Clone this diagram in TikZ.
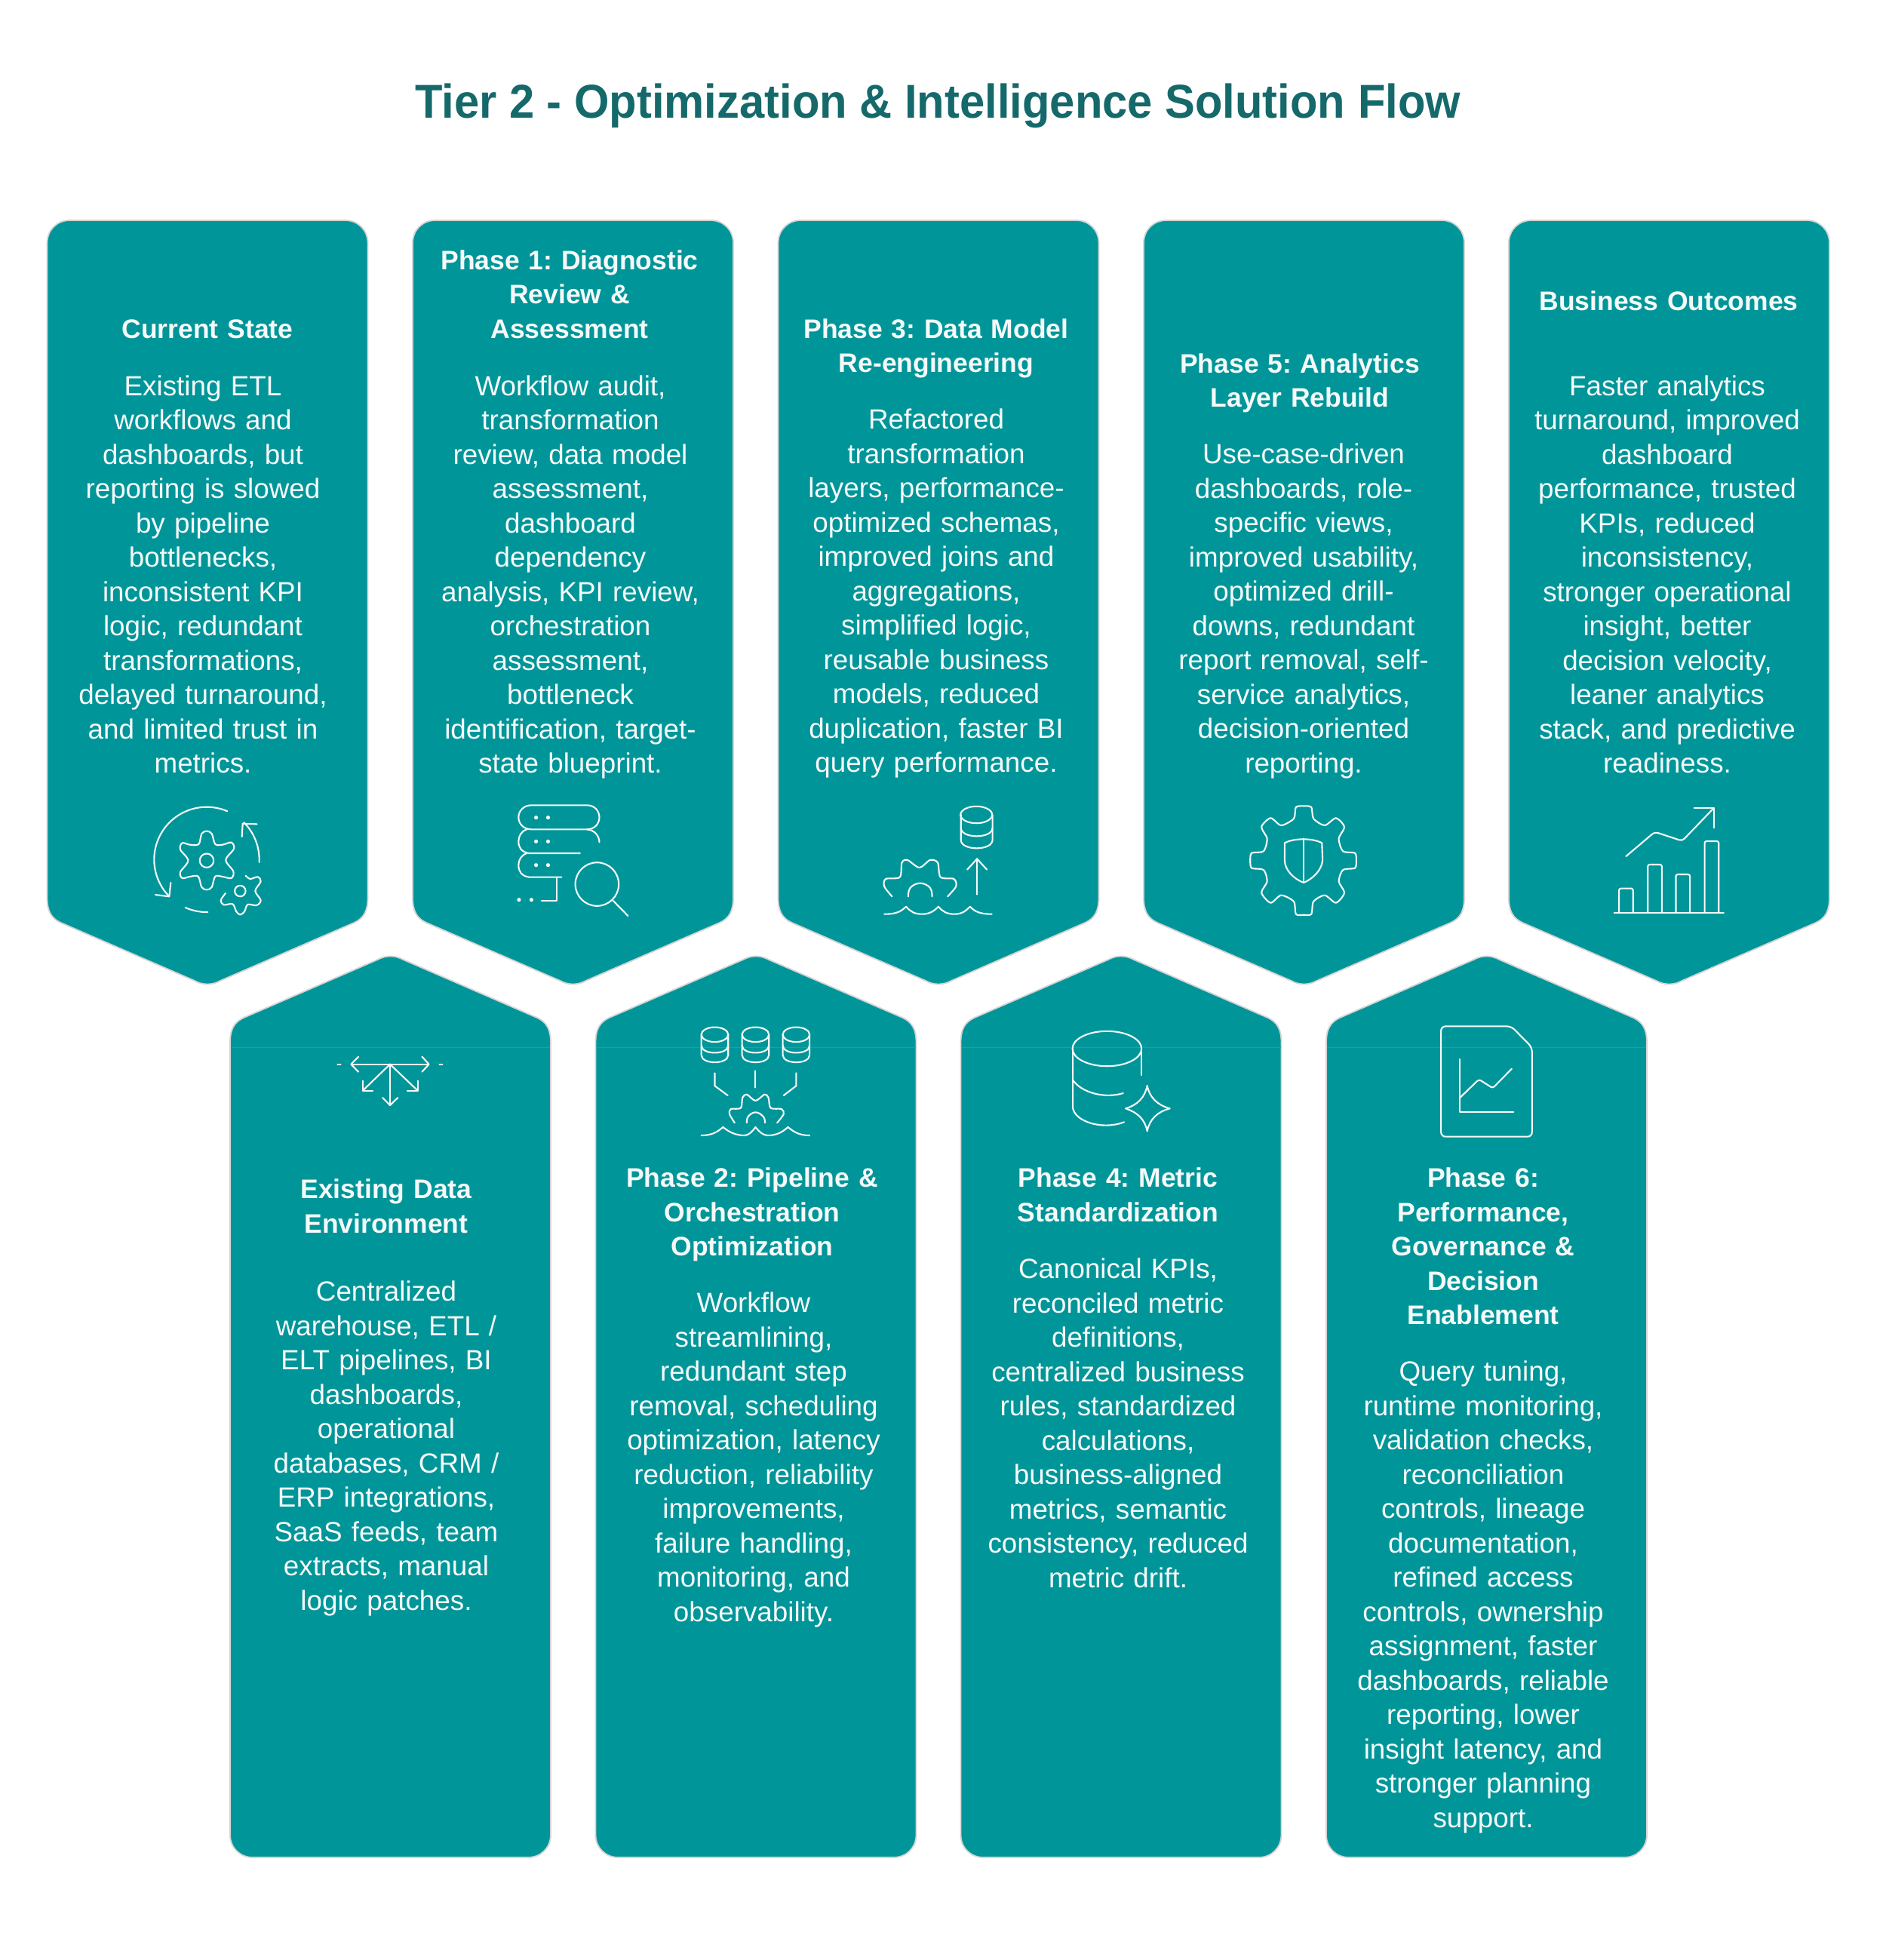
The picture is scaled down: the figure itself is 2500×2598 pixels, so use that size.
\documentclass[tikz,border=0pt]{standalone}
\usepackage{fontspec}
\setmainfont{Liberation Sans}
\newfontface\titleface{Liberation Sans Bold}[FakeStretch=0.948]
\frenchspacing
\definecolor{tealcard}{HTML}{009699}
\definecolor{titleteal}{HTML}{15696A}
\definecolor{cardedge}{HTML}{D4D4D4}
\definecolor{seam}{HTML}{2A9A9C}
\definecolor{softwhite}{HTML}{F6F9F9}
\tikzset{
  cardshape/.style={fill=tealcard,draw=cardedge,line width=0.9pt},
  ico/.style={draw=softwhite,line width=1.05pt,line cap=round,line join=round},
  dotmark/.style={fill=softwhite,draw=none},
  headtext/.style={inner sep=0pt,anchor=base,text width=212pt,align=center,text=softwhite,
    font=\fontsize{17.75}{22.75}\selectfont\bfseries},
  bodytext/.style={inner sep=0pt,anchor=base,text width=212pt,align=center,text=softwhite,
    font=\fontsize{18.4}{22.75}\selectfont},
  zoomA/.style={shift={(40,1040)},x=0.3062pt,y=-0.16667pt},
  zoomB/.style={shift={(1000,1040)},x=0.4655pt,y=-0.16667pt},
  zoomC/.style={shift={(300,1280)},x=0.287pt,y=-0.16667pt},
  zoomD/.style={shift={(1250,1280)},x=0.3062pt,y=-0.16667pt},
  zoomE/.style={shift={(180,1050)},x=0.16667pt,y=-0.16667pt},
}
\newcommand{\downcard}[1]{%
  \draw[cardshape,shift={(#1,0)}] (0,322) .. controls (0,305) and (13,292) .. (30,292) -- (395,292)
    .. controls (412,292) and (425,305) .. (425,322) -- (425,1190)
    .. controls (425,1207) and (420,1217) .. (407,1223) -- (229.5,1300)
    .. controls (219,1306) and (206,1306) .. (195.5,1300) -- (18,1223)
    .. controls (5,1217) and (0,1207) .. (0,1190) -- cycle;}
\newcommand{\upcard}[1]{%
  \draw[cardshape,shift={(#1,0)}] (0,2432) .. controls (0,2449) and (13,2462) .. (30,2462) -- (395,2462)
    .. controls (412,2462) and (425,2449) .. (425,2432) -- (425,1382)
    .. controls (425,1365) and (420,1355) .. (407,1349) -- (229.5,1272)
    .. controls (219,1266) and (206,1266) .. (195.5,1272) -- (18,1349)
    .. controls (5,1355) and (0,1365) .. (0,1382) -- cycle;
  \draw[seam,line width=0.5pt,shift={(#1,0)}] (1,1388) -- (424,1388);}
\begin{document}
\begin{tikzpicture}[x=0.5pt,y=-0.5pt]
\useasboundingbox (0,0) rectangle (2500,2598);
\node[inner sep=0pt,anchor=base,text=titleteal,font=\fontsize{31.5}{36}\titleface] (maintitle) at (1243,156)
  {Tier 2 - Optimization \& Intelligence Solution Flow};

\downcard{62.5}\downcard{547}\downcard{1031.5}\downcard{1516}\downcard{2000}
\upcard{305}\upcard{789.5}\upcard{1273.5}\upcard{1758}

% top row text
\node[headtext] (h1) at (275,448) {Current State};
\node[bodytext] (b1) at (269,524) {Existing ETL\\workflows and\\dashboards, but\\reporting is slowed\\by pipeline\\bottlenecks,\\inconsistent KPI\\logic, redundant\\transformations,\\delayed turnaround,\\and limited trust in\\metrics.};
\node[headtext] (h2) at (755,357) {Phase 1: Diagnostic\\Review \&\\Assessment};
\node[bodytext] (b2) at (756,524) {Workflow audit,\\transformation\\review, data model\\assessment,\\dashboard\\dependency\\analysis, KPI review,\\orchestration\\assessment,\\bottleneck\\identification, target-\\state blueprint.};
\node[headtext] (h3) at (1241,448) {Phase 3: Data Model\\Re-engineering};
\node[bodytext] (b3) at (1241,568.5) {Refactored\\transformation\\layers, performance-\\optimized schemas,\\improved joins and\\aggregations,\\simplified logic,\\reusable business\\models, reduced\\duplication, faster BI\\query performance.};
\node[headtext] (h4) at (1723,494) {Phase 5: Analytics\\Layer Rebuild};
\node[bodytext] (b4) at (1728,614.5) {Use-case-driven\\dashboards, role-\\specific views,\\improved usability,\\optimized drill-\\downs, redundant\\report removal, self-\\service analytics,\\decision-oriented\\reporting.};
\node[headtext] (h5) at (2212,411) {Business Outcomes};
\node[bodytext] (b5) at (2210,524) {Faster analytics\\turnaround, improved\\dashboard\\performance, trusted\\KPIs, reduced\\inconsistency,\\stronger operational\\insight, better\\decision velocity,\\leaner analytics\\stack, and predictive\\readiness.};
% bottom row text
\node[headtext] (h6) at (512,1588.5) {Existing Data\\Environment};
\node[bodytext] (b6) at (512,1724.5) {Centralized\\warehouse, ETL /\\ELT pipelines, BI\\dashboards,\\operational\\databases, CRM /\\ERP integrations,\\SaaS feeds, team\\extracts, manual\\logic patches.};
\node[headtext] (h7) at (997,1573.5) {Phase 2: Pipeline \&\\Orchestration\\Optimization};
\node[bodytext] (b7) at (999,1739.5) {Workflow\\streamlining,\\redundant step\\removal, scheduling\\optimization, latency\\reduction, reliability\\improvements,\\failure handling,\\monitoring, and\\observability.};
\node[headtext] (h8) at (1482,1573.5) {Phase 4: Metric\\Standardization};
\node[bodytext] (b8) at (1482,1694.5) {Canonical KPIs,\\reconciled metric\\definitions,\\centralized business\\rules, standardized\\calculations,\\business-aligned\\metrics, semantic\\consistency, reduced\\metric drift.};
\node[headtext] (h9) at (1966,1573.5) {Phase 6:\\Performance,\\Governance \&\\Decision\\Enablement};
\node[bodytext] (b9) at (1966,1830.5) {Query tuning,\\runtime monitoring,\\validation checks,\\reconciliation\\controls, lineage\\documentation,\\refined access\\controls, ownership\\assignment, faster\\dashboards, reliable\\reporting, lower\\insight latency, and\\stronger planning\\support.};

% icon 1: gears in cycle
\begin{scope}[zoomE]
 \draw[ico] plot[domain=-67:-223.5,samples=40,smooth] ({282+209*cos(\x)},{268+209*sin(\x)});
 \draw[ico] plot[domain=114:89,samples=10,smooth] ({282+209*cos(\x)},{268+209*sin(\x)});
 \draw[ico] plot[domain=-45:3,samples=15,smooth] ({282+209*cos(\x)},{268+209*sin(\x)});
 \draw[ico] (482,127) -- (425,125) -- (422,177);
 \draw[ico] (78,408) -- (133,415) -- (139,360);
 \draw[ico] plot[smooth cycle,tension=0.55] coordinates {(282,155)(302,165)(316,207)(345,209)(380,200)(390,225)(358,270)(388,315)(380,342)(345,336)(316,335)(302,378)(282,388)(262,378)(248,335)(215,336)(185,342)(177,318)(208,272)(177,228)(185,202)(215,209)(250,207)(262,165)};
 \draw[ico] (282,272) circle[radius=4.6pt];
 \draw[ico] plot[smooth,tension=0.55] coordinates {(357,402)(338,430)(350,448)(385,445)(400,475)(415,487)(432,475)(445,447)(480,450)(497,430)(475,393)(497,355)(485,337)(455,345)(437,332)};
 \draw[ico] (415,393) circle[radius=3.6pt];
\end{scope}

% icon 2: server stack and magnifier
\begin{scope}[zoomA]
 \draw[ico] (1085,82) -- (1205,82) .. controls (1222,82) and (1232,105) .. (1232,130) .. controls (1232,155) and (1222,178) .. (1205,178) -- (1085,178) .. controls (1068,178) and (1057,155) .. (1057,130) .. controls (1057,105) and (1068,82) .. (1085,82) -- cycle;
 \draw[ico] (1205,178) .. controls (1222,180) and (1232,205) .. (1232,229);
 \draw[ico] (1075,178) .. controls (1063,185) and (1057,205) .. (1057,226) .. controls (1057,250) and (1063,268) .. (1080,273) -- (1190,273);
 \draw[ico] (1075,273) .. controls (1063,280) and (1057,300) .. (1057,320) .. controls (1057,345) and (1063,363) .. (1080,368) -- (1150,368);
 \draw[ico] (1140,368) -- (1140,463) -- (1107,463);
 \foreach \dx/\dy in {1095/131,1121/131,1095/226,1121/226,1095/320,1121/320,1058/458,1085/458}
   \fill[dotmark] (\dx,\dy) circle[radius=1.3pt];
 \draw[ico] (1227,396) circle[radius=14.4pt];
 \draw[ico] (1262,462) -- (1294,522);
\end{scope}

% icon 3: cylinder, gear, water
\begin{scope}[zoomB]
 \draw[ico] (316,120) ellipse[x radius=10.5pt,y radius=5.6pt];
 \draw[ico] (294,120) -- (294,220) .. controls (294,264) and (339,264) .. (339,220) -- (339,120);
 \draw[ico] (294,172) .. controls (294,216) and (339,216) .. (339,172);
 \draw[ico] (317,437) -- (317,295);
 \draw[ico] (303,338) -- (317,295) -- (331,338);
 \draw[ico] plot[smooth,tension=0.5] coordinates {(196,445)(185,405)(187,375)(207,368)(210,310)(218,300)(235,330)(250,300)(261,310)(265,368)(284,375)(287,405)(275,445)};
 \draw[ico] plot[smooth,tension=0.7] coordinates {(219,445)(222,410)(236,392)(250,410)(253,445)};
 \draw[ico] (185,515) .. controls (205,515) and (210,500) .. (216,485) .. controls (222,505) and (228,515) .. (239,515) .. controls (250,515) and (257,500) .. (262,485) .. controls (268,505) and (274,515) .. (285,515) .. controls (296,515) and (302,500) .. (307,485) .. controls (313,503) and (320,515) .. (338,515);
\end{scope}

% icon 4: gear with shield
\begin{scope}[zoomB]
 \draw[ico] plot[smooth cycle,tension=0.45] coordinates {(768,135)(771,90)(782,85)(793,90)(796,135)(812,162)(828,133)(840,168)(832,215)(838,265)(855,272)(857,302)(855,332)(838,339)(832,385)(840,430)(828,470)(812,440)(796,465)(793,515)(782,518)(771,515)(768,465)(750,440)(735,470)(722,430)(730,385)(725,339)(708,332)(706,302)(708,272)(725,265)(730,215)(722,168)(735,133)(750,162)};
 \draw[ico] (755,232) .. controls (768,212) and (795,212) .. (808,232) -- (809,300) .. controls (808,340) and (795,375) .. (782,390) .. controls (768,375) and (755,340) .. (755,300) -- cycle;
 \draw[ico] (782,214) -- (782,390);
\end{scope}

% icon 5: chart rising
\begin{scope}[zoomB]
 \draw[ico,rounded corners=2pt] (1241,285) -- (1282,188) -- (1321,224) -- (1366,93);
 \draw[ico] (1338,93) -- (1366,93) -- (1366,172);
 \draw[ico,rounded corners=1.2pt] (1231,510) -- (1231,413) -- (1251,413) -- (1251,510);
 \draw[ico,rounded corners=1.2pt] (1272,510) -- (1272,318) -- (1292,318) -- (1292,510);
 \draw[ico,rounded corners=1.2pt] (1312,510) -- (1312,357) -- (1332,357) -- (1332,510);
 \draw[ico,rounded corners=1.2pt] (1353,510) -- (1353,225) -- (1373,225) -- (1373,510);
 \draw[ico] (1224,510) -- (1380,510);
\end{scope}

% icon 6: spreading arrows
\begin{scope}[zoomC]
 \draw[ico] (292,392) -- (465,392);
 \draw[ico] (305,362) -- (288,392) -- (305,422);
 \draw[ico] (452,362) -- (468,392) -- (452,422);
 \draw[ico] (257,393) -- (264,393);
 \draw[ico] (492,393) -- (499,393);
 \draw[ico] (378,392) -- (378,555);
 \draw[ico] (361,525) -- (378,555) -- (396,525);
 \draw[ico] (378,392) -- (315,497);
 \draw[ico] (315,458) -- (315,498) -- (338,498);
 \draw[ico] (378,392) -- (442,497);
 \draw[ico] (442,458) -- (442,498) -- (418,498);
\end{scope}

% icon 7: three cylinders into gear
\begin{scope}[zoomC]
 \foreach \cx in {1128,1222,1316}{
  \draw[ico] (\cx,274) ellipse[x radius=8.9pt,y radius=4.9pt];
  \draw[ico] ({\cx-31},274) -- ({\cx-31},355) .. controls ({\cx-31},394) and ({\cx+31},394) .. ({\cx+31},355) -- ({\cx+31},274);
  \draw[ico] ({\cx-31},317) .. controls ({\cx-31},356) and ({\cx+31},356) .. ({\cx+31},317);
 }
 \draw[ico] (1128,427) -- (1128,478) -- (1158,516);
 \draw[ico] (1222,418) -- (1222,485);
 \draw[ico] (1316,427) -- (1316,478) -- (1287,516);
 \draw[ico] plot[smooth,tension=0.5] coordinates {(1174,625)(1162,590)(1165,570)(1188,566)(1192,525)(1202,512)(1222,537)(1243,512)(1252,525)(1257,566)(1282,570)(1287,590)(1272,625)};
 \draw[ico] plot[smooth,tension=0.7] coordinates {(1202,625)(1205,600)(1222,583)(1240,600)(1244,625)};
 \draw[ico] (1097,675) .. controls (1122,675) and (1135,660) .. (1147,642) .. controls (1160,660) and (1175,675) .. (1197,675) .. controls (1205,675) and (1215,660) .. (1222,642) .. controls (1230,660) and (1240,675) .. (1250,675) .. controls (1272,675) and (1285,660) .. (1297,642) .. controls (1310,660) and (1322,675) .. (1347,675);
\end{scope}

% icon 8: cylinder and sparkle
\begin{scope}[zoomD]
 \draw[ico] (355,330) ellipse[x radius=22.9pt,y radius=11.6pt];
 \draw[ico] (281,330) -- (281,565) .. controls (285,620) and (345,655) .. (392,622);
 \draw[ico] (430,330) -- (430,435);
 \draw[ico] (281,455) .. controls (300,505) and (350,530) .. (390,507);
 \draw[ico] (442,477) .. controls (447,525) and (465,555) .. (491,568) .. controls (465,580) and (447,610) .. (442,658) .. controls (437,610) and (420,582) .. (395,568) .. controls (420,555) and (437,525) .. (442,477) -- cycle;
\end{scope}

% icon 9: document with chart
\begin{scope}[zoomD]
 \draw[ico,rounded corners=3pt] (1078,241) -- (1230,241) -- (1275,325) -- (1275,680) -- (1078,680) -- cycle;
 \draw[ico] (1119,372) -- (1119,583) -- (1235,583);
 \draw[ico,rounded corners=1.5pt] (1119,525) -- (1160,452) -- (1190,487) -- (1231,410);
\end{scope}
\end{tikzpicture}
\end{document}
